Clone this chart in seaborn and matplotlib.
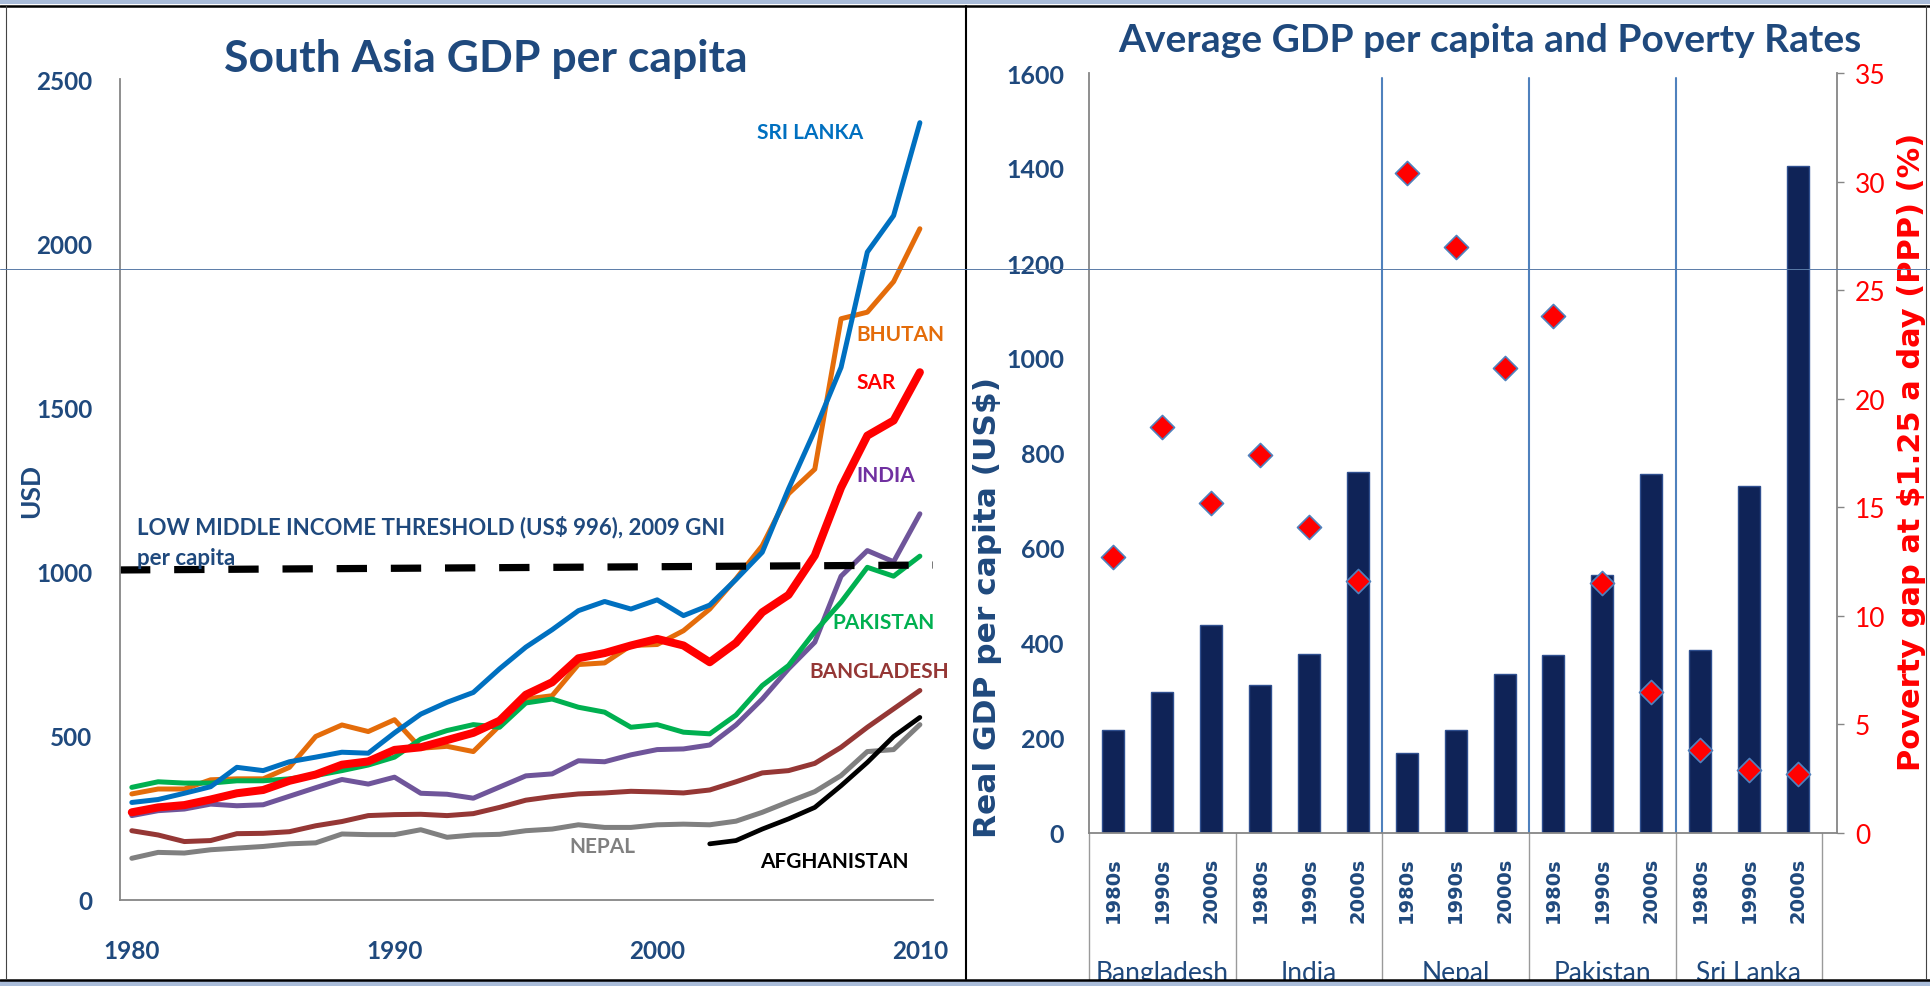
import numpy as np
import pandas as pd
import matplotlib
matplotlib.use('Agg')
import matplotlib.pyplot as plt
import matplotlib.transforms as mtransforms
from matplotlib.lines import Line2D
from matplotlib.patches import Rectangle
import seaborn as sns

# ---- data: left panel (GDP per capita, USD) ----
years = list(range(1980, 2011))
sri_lanka = [297, 306, 325, 345, 404, 394, 421, 435, 450, 447, 509, 566, 602, 632, 704, 770,
             823, 881, 909, 886, 914, 866, 898, 976, 1059, 1252, 1430, 1622, 1973, 2084, 2367]
bhutan = [323, 338, 338, 366, 369, 369, 404, 498, 533, 513, 549, 462, 468, 452, 531, 612,
          622, 717, 722, 775, 778, 820, 886, 978, 1079, 1237, 1312, 1770, 1790, 1883, 2044]
sar = [267, 282, 289, 306, 325, 335, 363, 382, 412, 422, 457, 465, 487, 509, 546, 625,
       663, 736, 752, 775, 795, 775, 724, 783, 876, 929, 1049, 1256, 1414, 1460, 1607]
india = [257, 272, 277, 292, 287, 290, 316, 342, 367, 353, 374, 325, 322, 310, 344, 378,
         384, 424, 421, 442, 458, 460, 472, 533, 612, 704, 785, 986, 1064, 1030, 1176]
pakistan = [343, 360, 356, 356, 363, 363, 369, 379, 394, 411, 435, 490, 516, 534, 526, 600,
            612, 587, 572, 526, 534, 511, 506, 563, 653, 714, 817, 907, 1013, 986, 1047]
bangladesh = [211, 198, 178, 181, 202, 203, 208, 226, 239, 257, 260, 261, 257, 263, 282, 304,
              315, 323, 326, 331, 329, 326, 335, 360, 387, 394, 416, 465, 526, 582, 638]
nepal = [127, 145, 143, 153, 158, 163, 171, 174, 201, 199, 199, 214, 191, 198, 200, 211,
         216, 229, 221, 221, 229, 231, 229, 240, 267, 299, 330, 379, 452, 458, 534]
afghan_years = list(range(2002, 2011))
afghanistan = [171, 181, 216, 247, 282, 348, 419, 498, 556]
threshold_years = [1979.55, 2010.5]
threshold_usd = [1005, 1020]

# ---- data: right panel ----
countries = ['Bangladesh', 'India', 'Nepal', 'Pakistan', 'Sri Lanka']
decades = ['1980s', '1990s', '2000s']
gdp_avg = [217, 297, 437, 311, 376, 760, 169, 217, 335, 374, 544, 755, 386, 730, 1405]
poverty_gap = [12.7, 18.7, 15.2, 17.4, 14.1, 11.6, 30.4, 27.0, 21.4, 23.8, 11.5, 6.5, 3.8, 2.9, 2.7]

slots = [f'{c} {d}' for c in countries for d in decades]
df = pd.DataFrame({'slot': slots, 'gdp': gdp_avg, 'poverty': poverty_gap})

sns.set_style('white')
NARROW = ['Lato', 'DejaVu Sans']
WIDE = ['DejaVu Sans']
NAVY = '#1F497D'
GREY = '#868686'

W, H = 1931, 987
fig = plt.figure(figsize=(W / 100, H / 100), dpi=100)
fig.patch.set_facecolor('white')


def fx(px):
    return px / W


def fy(py):
    return 1 - py / H


# ================= left panel =================
ax1 = fig.add_axes([fx(120), fy(901), fx(933) - fx(120), fy(80) - fy(901)])

lines = [
    ('NEPAL', nepal, '#808080', 3.6),
    ('BANGLADESH', bangladesh, '#953735', 3.6),
    ('INDIA', india, '#6F559A', 3.6),
    ('BHUTAN', bhutan, '#E46C0A', 3.6),
    ('PAKISTAN', pakistan, '#00B050', 3.6),
    ('SRI LANKA', sri_lanka, '#0070C0', 3.6),
    ('SAR', sar, '#FF0000', 5.8),
]
for name, vals, col, lw in lines:
    sns.lineplot(x=years, y=vals, color=col, lw=lw, ax=ax1, solid_capstyle='round')
sns.lineplot(x=afghan_years, y=afghanistan, color='black', lw=3.4, ax=ax1, solid_capstyle='round')
sns.lineplot(x=threshold_years, y=threshold_usd, color='black', lw=5.2,
             linestyle=(0, (4.2, 3.3)), ax=ax1)

labels = [
    ('SRI LANKA', 2003.8, 2339, '#0070C0'),
    ('BHUTAN', 2007.6, 1723, '#E46C0A'),
    ('SAR', 2007.6, 1577, '#FF0000'),
    ('INDIA', 2007.6, 1294, '#7030A0'),
    ('PAKISTAN', 2006.66, 847, '#00B050'),
    ('BANGLADESH', 2005.78, 697, '#953735'),
    ('NEPAL', 1996.66, 164, '#808080'),
    ('AFGHANISTAN', 2003.9, 119, 'black'),
]
for txt, x, y, col in labels:
    ax1.text(x, y, txt, color=col, fontsize=15, fontweight='bold', family=NARROW,
             ha='left', va='center', clip_on=False)
ax1.text(1980.2, 1093, 'LOW MIDDLE INCOME THRESHOLD (US$ 996), 2009 GNI\nper capita',
         color=NAVY, fontsize=16, fontweight='bold', family=NARROW, ha='left', va='center',
         linespacing=1.55)

ax1.set_xlim(1979.55, 2010.5)
ax1.set_ylim(0, 2500)
ax1.set_xticks([1980, 1990, 2000, 2010])
ax1.set_yticks(range(0, 2501, 500))
ax1.tick_params(axis='both', length=0, labelcolor=NAVY)
ax1.tick_params(axis='x', pad=28)
ax1.tick_params(axis='y', pad=20)
for lab in ax1.get_xticklabels() + ax1.get_yticklabels():
    lab.set_fontfamily(NARROW)
    lab.set_fontweight('bold')
    lab.set_fontsize(17.5)
ax1.set_xlabel('')
ax1.set_ylabel('')
for s in ['top', 'right']:
    ax1.spines[s].set_visible(False)
for s in ['left', 'bottom']:
    ax1.spines[s].set_color(GREY)
    ax1.spines[s].set_linewidth(1.3)

fig.text(fx(31), fy(491), 'USD', rotation=90, ha='center', va='center', color=NAVY,
         fontsize=19, fontweight='bold', family=NARROW)
fig.text(fx(486), fy(72), 'South Asia GDP per capita', ha='center', va='baseline', color=NAVY,
         fontsize=32, fontweight='bold', family=NARROW)

# ================= right panel =================
ax2 = fig.add_axes([fx(1089), fy(834), fx(1837) - fx(1089), fy(74) - fy(834)])
ax3 = ax2.twinx()

sns.barplot(data=df, x='slot', y='gdp', order=slots, color='#0F2357', saturation=1,
            width=0.45, edgecolor='#2F4F8F', linewidth=1, ax=ax2)
sns.scatterplot(x=np.arange(len(slots)), y=poverty_gap, marker='D', s=150, color='#FF0000',
                edgecolor='#4F81BD', linewidth=1.2, ax=ax3, zorder=5)

ax2.set_ylim(0, 1600)
ax2.set_yticks(range(0, 1601, 200))
ax3.set_ylim(0, 35)
ax3.set_yticks(range(0, 36, 5))
ax2.set_xlim(-0.5, 14.8)
ax2.set_xticks(range(len(slots)))
ax2.set_xticklabels(decades * len(countries), rotation=90, color=NAVY, fontsize=14,
                    fontweight='bold', family=WIDE)
ax2.tick_params(axis='x', length=0, pad=17)
ax2.tick_params(axis='y', length=0, pad=18, labelcolor=NAVY)
for lab in ax2.get_yticklabels():
    lab.set_fontfamily(NARROW)
    lab.set_fontweight('bold')
    lab.set_fontsize(18)
ax3.tick_params(axis='y', length=5, width=1, color=GREY, pad=8, labelcolor='#FF0000')
for lab in ax3.get_yticklabels():
    lab.set_fontfamily(NARROW)
    lab.set_fontsize(19)
ax2.set_xlabel('')
ax2.set_ylabel('')
ax3.set_ylabel('')

for s in ['top', 'right']:
    ax2.spines[s].set_visible(False)
for s in ['left', 'bottom']:
    ax2.spines[s].set_color(GREY)
    ax2.spines[s].set_linewidth(1.3)
for s in ['top', 'left', 'bottom']:
    ax3.spines[s].set_visible(False)
ax3.spines['right'].set_color(GREY)
ax3.spines['right'].set_linewidth(1.3)

for b in [5.5, 8.5, 11.5]:
    ax2.axvline(b, ymin=0, ymax=0.993, color='#4F81BD', lw=1.5)

trans = mtransforms.blended_transform_factory(ax2.transData, ax2.transAxes)
for b in [-0.5, 2.5, 5.5, 8.5, 11.5, 14.5]:
    ax2.plot([b, b], [0, -0.22], transform=trans, color='#9A9A9A', lw=1, clip_on=False)
for i, c in enumerate(countries):
    ax2.text(i * 3 + 1, -0.183, c, transform=trans, ha='center', va='center', color=NAVY,
             fontsize=19, family=NARROW, clip_on=False)

fig.text(fx(988), fy(608), 'Real GDP per capita (US$)', rotation=90, ha='center', va='center',
         color=NAVY, fontsize=22.5, fontweight='bold', family=WIDE)
fig.text(fx(1912), fy(452), 'Poverty gap at $1.25 a day (PPP) (%)', rotation=90, ha='center',
         va='center', color='#FF0000', fontsize=22, fontweight='bold', family=WIDE)
fig.text(fx(1490), fy(52), 'Average GDP per capita and Poverty Rates', ha='center',
         va='baseline', color=NAVY, fontsize=28, fontweight='bold', family=NARROW)

# ================= slide frame =================
fig.add_artist(Rectangle((0, fy(5)), 1, 5 / H, transform=fig.transFigure,
                         facecolor='#A9BCD9', edgecolor='none', zorder=20))
fig.add_artist(Rectangle((0, 0), 1, fy(981), transform=fig.transFigure,
                         facecolor='#A9BCD9', edgecolor='none', zorder=20))
fig.add_artist(Line2D([0, 1], [fy(6.5), fy(6.5)], transform=fig.transFigure,
                      color='black', lw=1.8, zorder=21))
fig.add_artist(Line2D([0, 1], [fy(980.5), fy(980.5)], transform=fig.transFigure,
                      color='black', lw=1.8, zorder=21))
fig.add_artist(Line2D([fx(966), fx(966)], [fy(7), fy(980)], transform=fig.transFigure,
                      color='black', lw=1.5, zorder=21))
fig.add_artist(Line2D([fx(6), fx(6)], [fy(7), fy(980)], transform=fig.transFigure,
                      color='#444444', lw=0.8, zorder=21))
fig.add_artist(Line2D([fx(1926), fx(1926)], [fy(7), fy(980)], transform=fig.transFigure,
                      color='#444444', lw=0.8, zorder=21))
fig.add_artist(Line2D([0, 1], [fy(270), fy(270)], transform=fig.transFigure,
                      color='#5A7BA8', lw=0.7, zorder=21))

fig.savefig('out.png', dpi=100)
